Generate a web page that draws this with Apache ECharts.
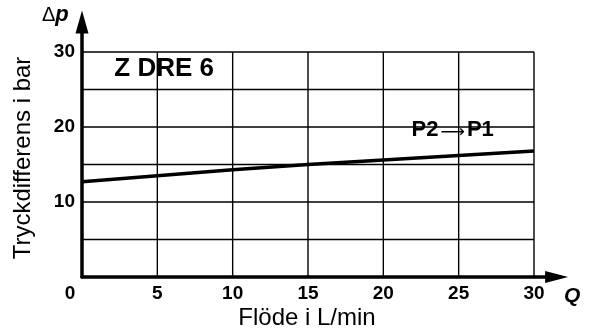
<!DOCTYPE html>
<html>
<head>
<meta charset="utf-8">
<script src="https://cdn.jsdelivr.net/npm/echarts@6/dist/echarts.min.js"></script>
<style>
  html, body { margin: 0; padding: 0; background: #fff; }
  #chart { width: 590px; height: 336px; }
</style>
</head>
<body>
<div id="chart"></div>
<script>
// flow Q (L/min) vs pressure difference (bar)
const flow = [0, 5, 10, 15, 20, 25, 30];
const pressure = [12.7, 13.5, 14.3, 15.0, 15.6, 16.2, 16.8];

const xTicks = [0, 5, 10, 15, 20, 25, 30];
const yTicks = [10, 20, 30];
const xGrid = [5, 10, 15, 20, 25, 30];
const yGrid = [5, 10, 15, 20, 25, 30];

const FONT = "'Liberation Sans', Arial, sans-serif";

// grid lines as one broken line series
const gridData = [];
yGrid.forEach(v => { gridData.push([0, v], [30, v], ["-", "-"]); });
xGrid.forEach(v => { gridData.push([v, 0], [v, 30], ["-", "-"]); });

const chart = echarts.init(document.getElementById("chart"));

chart.setOption({
  animation: false,
  grid: { left: 82, top: 22, width: 474.6, height: 255 },
  xAxis: {
    type: "value",
    min: 0,
    max: 31.5,
    interval: 5,
    axisLine: {
      lineStyle: { color: "#000", width: 3.5 },
      symbol: ["none", "triangle"],
      symbolSize: [12, 23]
    },
    axisTick: { show: false },
    splitLine: { show: false },
    axisLabel: {
      margin: 7,
      color: "#000",
      fontFamily: FONT,
      fontWeight: "bold",
      fontSize: 19,
      formatter: v => (v === 0 ? "{z|0}" : xTicks.includes(v) ? String(v) : ""),
      rich: { z: { fontFamily: FONT, fontWeight: "bold", fontSize: 19, color: "#000", padding: [0, 24, 0, 0] } }
    }
  },
  yAxis: {
    type: "value",
    min: 0,
    max: 34,
    interval: 10,
    axisLine: {
      show: true,
      lineStyle: { color: "#000", width: 3.5 },
      symbol: ["none", "triangle"],
      symbolSize: [13, 23]
    },
    axisTick: { show: false },
    splitLine: { show: false },
    axisLabel: {
      margin: 7,
      color: "#000",
      fontFamily: FONT,
      fontWeight: "bold",
      fontSize: 19,
      formatter: v => (yTicks.includes(v) ? String(v) : "")
    }
  },
  graphic: [
    {
      type: "text", left: 42, top: 4,
      style: {
        text: "{d|Δ}{p|p}",
        rich: {
          d: { fontFamily: FONT, fontSize: 20, fill: "#000" },
          p: { fontFamily: FONT, fontSize: 22, fontWeight: "bold", fontStyle: "italic", fill: "#000" }
        }
      }
    },
    {
      type: "text", left: 564, top: 286,
      style: { text: "Q", fontFamily: FONT, fontSize: 21, fontWeight: "bold", fontStyle: "italic", fill: "#000" }
    },
    {
      type: "text", x: 307, y: 318,
      style: { text: "Flöde i L/min", fontFamily: FONT, fontSize: 24, fill: "#000", align: "center", verticalAlign: "middle" }
    },
    {
      type: "text", x: 23, y: 158, rotation: Math.PI / 2,
      style: { text: "Tryckdifferens i bar", fontFamily: FONT, fontSize: 24, fill: "#000", align: "center", verticalAlign: "middle" }
    }
  ],
  series: [
    {
      type: "line",
      z: 1,
      silent: true,
      symbol: "none",
      connectNulls: false,
      data: gridData,
      lineStyle: { color: "#000", width: 1.4 }
    },
    {
      type: "line",
      z: 3,
      silent: true,
      symbol: "none",
      data: flow.map((q, i) => [q, pressure[i]]),
      lineStyle: { color: "#000", width: 3.4 },
      markArea: {
        silent: true,
        itemStyle: { color: "#fff", opacity: 1 },
        data: [
          [
            {
              coord: [0.15, 29.85],
              label: {
                show: true, position: "inside", offset: [6.5, -2],
                formatter: "Z DRE 6",
                fontFamily: FONT, fontSize: 26, fontWeight: "bold", color: "#000"
              }
            },
            { coord: [9.9, 25.15] }
          ],
          [
            {
              coord: [21.3, 21.3],
              label: {
                show: true, position: "inside", offset: [-12, 0],
                formatter: "{b|P2}{a|⟶}{b|P1}",
                rich: {
                  b: { fontFamily: FONT, fontSize: 22, fontWeight: "bold", color: "#000" },
                  a: { fontFamily: "'DejaVu Sans', sans-serif", fontSize: 17, color: "#000", padding: [6, 2, 0, 2] }
                }
              }
            },
            { coord: [29.5, 18.0] }
          ]
        ]
      }
    }
  ]
});
</script>
</body>
</html>
